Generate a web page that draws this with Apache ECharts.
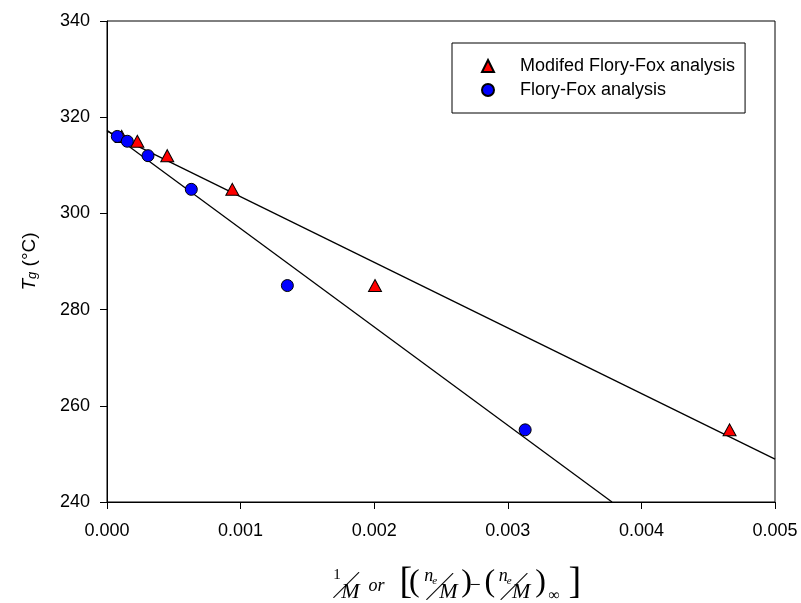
<!DOCTYPE html>
<html>
<head>
    <meta charset="UTF-8">
    <title>Tg vs 1/M</title>
    <script src="https://cdn.jsdelivr.net/npm/echarts@6/dist/echarts.min.js"></script>
    <style>
        body { margin: 0; padding: 0; background: #fff; }
        #chart { width: 801px; height: 603px; }
    </style>
</head>
<body>
    <div id="chart"></div>
    <script>
        // data
        var modX = [0.00011, 0.000227, 0.000451, 0.000938, 0.002006, 0.00466];
        var modY = [316, 315, 312, 305, 285, 255];
        var ffX = [0.000077, 0.000152, 0.000307, 0.000631, 0.00135, 0.00313];
        var ffY = [316, 315, 312, 305, 285, 255];

        // regression lines (end points)
        var modFitX = [0, 0.005];
        var modFitY = [317.1, 248.9];
        var ffFitX = [0, 0.00378];
        var ffFitY = [317.3, 240];

        var xTicks = [0, 0.001, 0.002, 0.003, 0.004, 0.005];
        var yTicks = [240, 260, 280, 300, 320, 340];

        function pairs(xs, ys) {
            return xs.map(function (x, i) { return [x, ys[i]]; });
        }

        var chart = echarts.init(document.getElementById('chart'), null, { renderer: 'canvas' });

        var serif = '"Liberation Serif", "DejaVu Serif", serif';
        var sans = '"Liberation Sans", Arial, sans-serif';
        var diag = '"Noto Sans CJK SC", "DejaVu Sans", sans-serif';

        // rich-text pieces for the x axis title: 1/M or [(ne/M)-(ne/M)inf]
        function tok(fam, size, italic, pad) {
            return {
                fontFamily: fam, fontSize: size, fontStyle: italic ? 'italic' : 'normal',
                color: '#000', verticalAlign: 'top', padding: pad
            };
        }
        var xRich = {
            one: tok(serif, 15, false, [5.5, 0, 0, 32.6]),
            sl: tok(diag, 26, false, [10, 0, 0, -7.5]),
            M0: tok(serif, 22, true, [19.6, 0, 0, -18]),
            or: tok(serif, 18, true, [15, 15, 0, 8.7]),
            bl: tok(serif, 38, false, [2, -3, 0, 0]),
            pl: tok(serif, 32, false, [5, 0, 0, 0]),
            n1: tok(serif, 18, true, [5, 0, 0, 4.6]),
            e: tok(serif, 11, true, [13.5, 0, 0, -1]),
            s1: tok(diag, 27, false, [11, 0, 0, -11]),
            M1: tok(serif, 22, true, [19.6, 0, 0, -14]),
            pr1: tok(serif, 32, false, [5, 0, 0, 3.7]),
            mi: tok(serif, 20, false, [13.3, 0, 0, -2.4]),
            pl2: tok(serif, 32, false, [5, 0, 0, 3.7]),
            n2: tok(serif, 18, true, [5, 0, 0, 3.6]),
            s2: tok(diag, 27, false, [11, 0, 0, -11.2]),
            M2: tok(serif, 22, true, [19.6, 0, 0, -15.4]),
            pr2: tok(serif, 32, false, [5, 0, 0, 5]),
            inf: tok(serif, 16, false, [25.6, 0, 0, 2.6]),
            br: tok(serif, 38, false, [2, 0, 0, 8.6])
        };
        var xName = '{one|1}{sl|╱}{M0|M}{or|or}{bl|[}{pl|(}{n1|n}{e|e}{s1|╱}{M1|M}{pr1|)}' +
            '{mi|−}{pl2|(}{n2|n}{e|e}{s2|╱}{M2|M}{pr2|)}{inf|∞}{br|]}';

        var option = {
            animation: false,
            backgroundColor: '#fff',
            grid: {
                left: 107, right: 26, top: 21, bottom: 101,
                outerBoundsMode: 'none',
                show: true, borderColor: '#000', borderWidth: 1
            },
            legend: {
                left: 452, top: 43,
                orient: 'vertical',
                data: [
                    { name: 'Modifed Flory-Fox analysis', icon: 'triangle' },
                    { name: 'Flory-Fox analysis', icon: 'circle' }
                ],
                itemWidth: 12, itemHeight: 12, itemGap: 6,
                padding: [14, 10, 14, 29],
                borderColor: '#000', borderWidth: 1,
                textStyle: {
                    fontFamily: sans, fontSize: 18, color: '#000',
                    lineHeight: 18, padding: [0, 0, 0, 21]
                }
            },
            xAxis: {
                type: 'value',
                min: xTicks[0], max: xTicks[xTicks.length - 1], interval: 0.001,
                axisLine: { lineStyle: { color: '#000', width: 1 } },
                axisTick: { show: true, inside: false, length: 7, lineStyle: { color: '#000' } },
                axisLabel: {
                    color: '#000', fontFamily: sans, fontSize: 18, margin: 20,
                    formatter: function (v) { return v.toFixed(3); }
                },
                splitLine: { show: false },
                nameLocation: 'middle',
                nameGap: 60,
                name: xName,
                nameTextStyle: { color: '#000', fontFamily: serif, rich: xRich }
            },
            yAxis: {
                type: 'value',
                min: yTicks[0], max: yTicks[yTicks.length - 1], interval: 20,
                axisLine: { show: true, lineStyle: { color: '#000', width: 1 } },
                axisTick: { show: true, inside: false, length: 7, lineStyle: { color: '#000' } },
                axisLabel: { color: '#000', fontFamily: sans, fontSize: 18, margin: 17 },
                splitLine: { show: false },
                nameLocation: 'middle',
                nameGap: 68,
                name: '{T|T}{g|g}{u| (°C)}',
                nameTextStyle: {
                    color: '#000',
                    rich: {
                        T: { fontFamily: sans, fontSize: 19, fontStyle: 'italic', color: '#000', verticalAlign: 'top' },
                        g: { fontFamily: sans, fontSize: 13, fontStyle: 'italic', color: '#000', verticalAlign: 'bottom' },
                        u: { fontFamily: sans, fontSize: 19, color: '#000', verticalAlign: 'top' }
                    }
                }
            },
            series: [
                {
                    name: 'modFit', type: 'line', data: pairs(modFitX, modFitY),
                    symbol: 'none', silent: true,
                    lineStyle: { color: '#000', width: 1.3 }, z: 1
                },
                {
                    name: 'ffFit', type: 'line', data: pairs(ffFitX, ffFitY),
                    symbol: 'none', silent: true,
                    lineStyle: { color: '#000', width: 1.3 }, z: 1
                },
                {
                    name: 'Modifed Flory-Fox analysis', type: 'scatter',
                    data: pairs(modX, modY),
                    symbol: 'triangle', symbolSize: [13, 12],
                    itemStyle: { color: '#ff0000', borderColor: '#000', borderWidth: 1, opacity: 1 },
                    z: 3
                },
                {
                    name: 'Flory-Fox analysis', type: 'scatter',
                    data: pairs(ffX, ffY),
                    symbol: 'circle', symbolSize: 12,
                    itemStyle: { color: '#0000ff', borderColor: '#000', borderWidth: 1, opacity: 1 },
                    z: 4
                }
            ]
        };

        chart.setOption(option);
    </script>
</body>
</html>
